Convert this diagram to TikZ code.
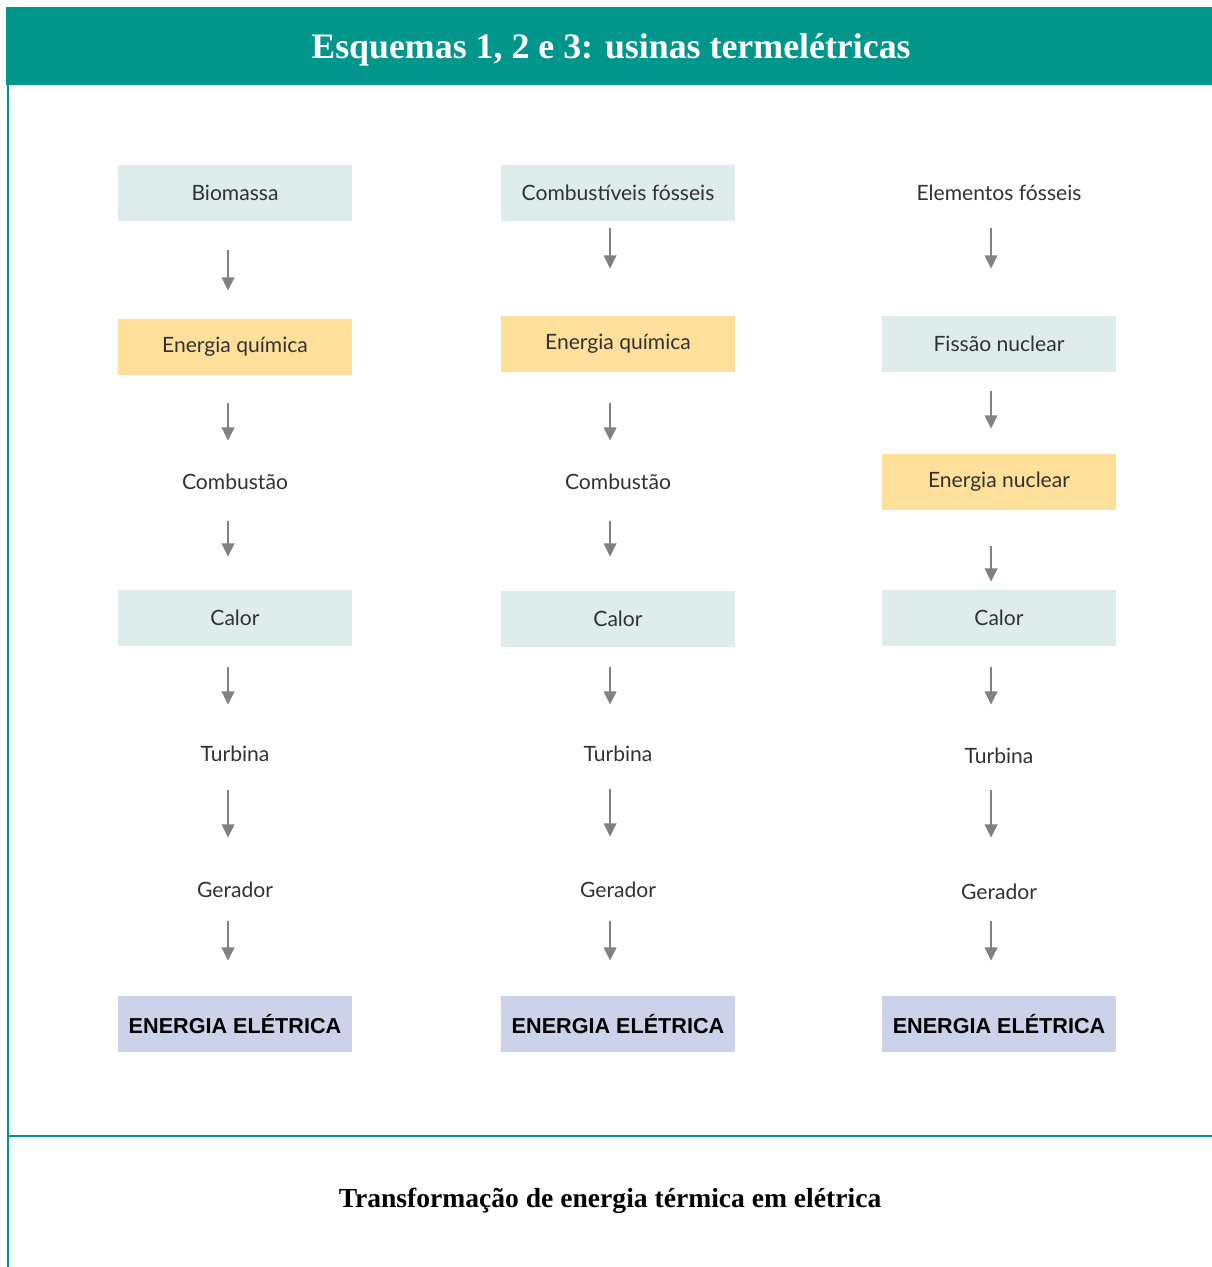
\documentclass[tikz,border=0pt]{standalone}
\usepackage{fontspec}
\setmainfont{Lato}
\newfontfamily\serifbold{Liberation Serif}
\newfontfamily\arialbold{Liberation Sans}
\usetikzlibrary{arrows.meta}
\definecolor{verde}{RGB}{0,150,140}
\definecolor{caixa}{RGB}{222,237,236}
\definecolor{amarelo}{RGB}{255,224,155}
\definecolor{lilas}{RGB}{205,210,235}
\definecolor{cinzaseta}{RGB}{128,128,133}
\definecolor{texto}{RGB}{50,50,50}
\tikzset{
  etapa/.style={minimum width=4.68cm, minimum height=1.12cm, inner sep=0pt,
    text=texto, font=\fontsize{12}{14}\selectfont},
  fonte/.style={etapa, fill=caixa},
  forma/.style={etapa, fill=amarelo},
  eletrica/.style={etapa, fill=lilas, text=black,
    font=\arialbold\bfseries\fontsize{12.3}{14}\selectfont},
  fluxo/.style 2 args={draw=cinzaseta, line width=1.4pt,
    -{Triangle[length=7.5pt,width=7pt]},
    shorten <=#1*0.02cm, shorten >=#2*0.02cm},
}
\begin{document}
\begin{tikzpicture}[x=0.02cm, y=-0.02cm]
  \useasboundingbox (0,0) rectangle (1212,1267);
  \fill[verde] (6,7) rectangle (1212,85);
  \node[text=white, font=\serifbold\bfseries\fontsize{20.4}{24}\selectfont] (titulo) at (611,50) {Esquemas 1, 2 e 3: usinas termelétricas};
  \draw[verde, line width=0.04cm] (8,85) -- (8,1267);
  \draw[verde, line width=0.03cm] (8,1136) -- (1212,1136);
  \node[font=\serifbold\bfseries\fontsize{15.7}{18}\selectfont] (legenda) at (610,1201) {Transformação de energia térmica em elétrica};

  % esquema 1
  \node[fonte] (bio) at (235,193) {Biomassa};
  \node[forma] (quimA) at (235,347) {Energia química};
  \node[etapa] (combA) at (235,482) {Combustão};
  \node[fonte] (calorA) at (235,618) {Calor};
  \node[etapa] (turbA) at (235,754) {Turbina};
  \node[etapa] (gerA) at (235,890) {Gerador};
  \node[eletrica] (eletA) at (235,1024) {ENERGIA ELÉTRICA};
  \draw[fluxo={29}{28}] ([xshift=-0.14cm]bio.south) -- ([xshift=-0.14cm]quimA.north);
  \draw[fluxo={28}{13}] ([xshift=-0.14cm]quimA.south) -- ([xshift=-0.14cm]combA.north);
  \draw[fluxo={11}{33}] ([xshift=-0.14cm]combA.south) -- ([xshift=-0.14cm]calorA.north);
  \draw[fluxo={21}{21}] ([xshift=-0.14cm]calorA.south) -- ([xshift=-0.14cm]turbA.north);
  \draw[fluxo={8}{24}] ([xshift=-0.14cm]turbA.south) -- ([xshift=-0.14cm]gerA.north);
  \draw[fluxo={3}{35}] ([xshift=-0.14cm]gerA.south) -- ([xshift=-0.14cm]eletA.north);

  % esquema 2
  \node[fonte] (fosseis) at (618,193) {Combustíveis fósseis};
  \node[forma] (quimB) at (618,344) {Energia química};
  \node[etapa] (combB) at (618,482) {Combustão};
  \node[fonte] (calorB) at (618,619) {Calor};
  \node[etapa] (turbB) at (618,754) {Turbina};
  \node[etapa] (gerB) at (618,890) {Gerador};
  \node[eletrica] (eletB) at (618,1024) {ENERGIA ELÉTRICA};
  \draw[fluxo={7}{47}] ([xshift=-0.16cm]fosseis.south) -- ([xshift=-0.16cm]quimB.north);
  \draw[fluxo={31}{13}] ([xshift=-0.16cm]quimB.south) -- ([xshift=-0.16cm]combB.north);
  \draw[fluxo={11}{34}] ([xshift=-0.16cm]combB.south) -- ([xshift=-0.16cm]calorB.north);
  \draw[fluxo={20}{21}] ([xshift=-0.16cm]calorB.south) -- ([xshift=-0.16cm]turbB.north);
  \draw[fluxo={7}{25}] ([xshift=-0.16cm]turbB.south) -- ([xshift=-0.16cm]gerB.north);
  \draw[fluxo={3}{35}] ([xshift=-0.16cm]gerB.south) -- ([xshift=-0.16cm]eletB.north);

  % esquema 3
  \node[etapa] (elementos) at (999,193) {Elementos fósseis};
  \node[fonte] (fissao) at (999,344) {Fissão nuclear};
  \node[forma] (nuclear) at (999,482) {Energia nuclear};
  \node[fonte] (calorC) at (999,618) {Calor};
  \node[etapa] (turbC) at (999,756) {Turbina};
  \node[etapa] (gerC) at (999,892) {Gerador};
  \node[eletrica] (eletC) at (999,1024) {ENERGIA ELÉTRICA};
  \draw[fluxo={7}{47}] ([xshift=-0.16cm]elementos.south) -- ([xshift=-0.16cm]fissao.north);
  \draw[fluxo={19}{25}] ([xshift=-0.16cm]fissao.south) -- ([xshift=-0.16cm]nuclear.north);
  \draw[fluxo={36}{8}] ([xshift=-0.16cm]nuclear.south) -- ([xshift=-0.16cm]calorC.north);
  \draw[fluxo={21}{23}] ([xshift=-0.16cm]calorC.south) -- ([xshift=-0.16cm]turbC.north);
  \draw[fluxo={6}{26}] ([xshift=-0.16cm]turbC.south) -- ([xshift=-0.16cm]gerC.north);
  \draw[fluxo={1}{35}] ([xshift=-0.16cm]gerC.south) -- ([xshift=-0.16cm]eletC.north);
\end{tikzpicture}
\end{document}
